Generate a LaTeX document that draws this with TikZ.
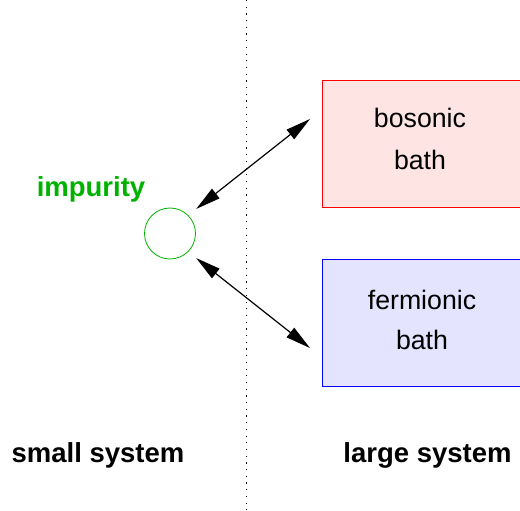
\documentclass[tikz,border=0pt]{standalone}
\usepackage{fontspec}
\setmainfont{Liberation Sans}
\usepackage{tikz}
\usetikzlibrary{arrows.meta,positioning,calc}
\definecolor{impgreen}{RGB}{0,178,0}
\definecolor{bospink}{RGB}{255,228,228}
\definecolor{fermblue}{RGB}{228,228,255}
\tikzstyle{bathbox}=[shape=rectangle,minimum width=200pt,minimum height=127pt,inner sep=0pt,line width=0.8pt]
\tikzstyle{bathtext}=[align=center,inner sep=0pt,font=\fontsize{26.7}{42}\selectfont]
\tikzstyle{impstate}=[shape=circle,draw=impgreen,minimum size=51pt,inner sep=0pt,line width=0.8pt]
\tikzstyle{coupling}=[{Triangle[length=25pt,width=12pt]}-{Triangle[length=25pt,width=12pt]},line width=1.2pt]
\tikzstyle{divider}=[line width=1.2pt,dash pattern=on 1.2pt off 5.5pt]
\tikzstyle{bigbold}=[font=\fontsize{27.5}{30}\selectfont\bfseries,anchor=base]

\begin{document}
\begin{tikzpicture}[x=1pt,y=-1pt]
\useasboundingbox (0,0) rectangle (520,511);

%small system | large system
\node (top) at (246.5,0){};
\node (bottom) at (246.5,511){};
\draw[divider] (top.center) -- (bottom.center);

\node[impstate] (imp) at (170,233.5){};
\node[bigbold,text=impgreen] (implabel) at (91,196){impurity};

\node[bathbox,fill=bospink,draw=red] (bos) at (422,144){};
\node[bathtext] (bostext) at (420,139){bosonic\\bath};
\node[bathbox,fill=fermblue,draw=blue] (ferm) at (422,323){};
\node[bathtext,font=\fontsize{26.7}{40}\selectfont] (fermtext) at (422,320){fermionic\\bath};

\coordinate (bostip) at (310,119);
\coordinate (fermtip) at (310,348);

\node[bigbold] (small) at (98,462){small system};
\node[bigbold] (large) at (427.5,462){large system};

\path
(imp.45) edge [coupling,shorten <=10pt] (bostip)
(imp.-45) edge [coupling,shorten <=10pt] (fermtip)
;

\end{tikzpicture}
\end{document}
